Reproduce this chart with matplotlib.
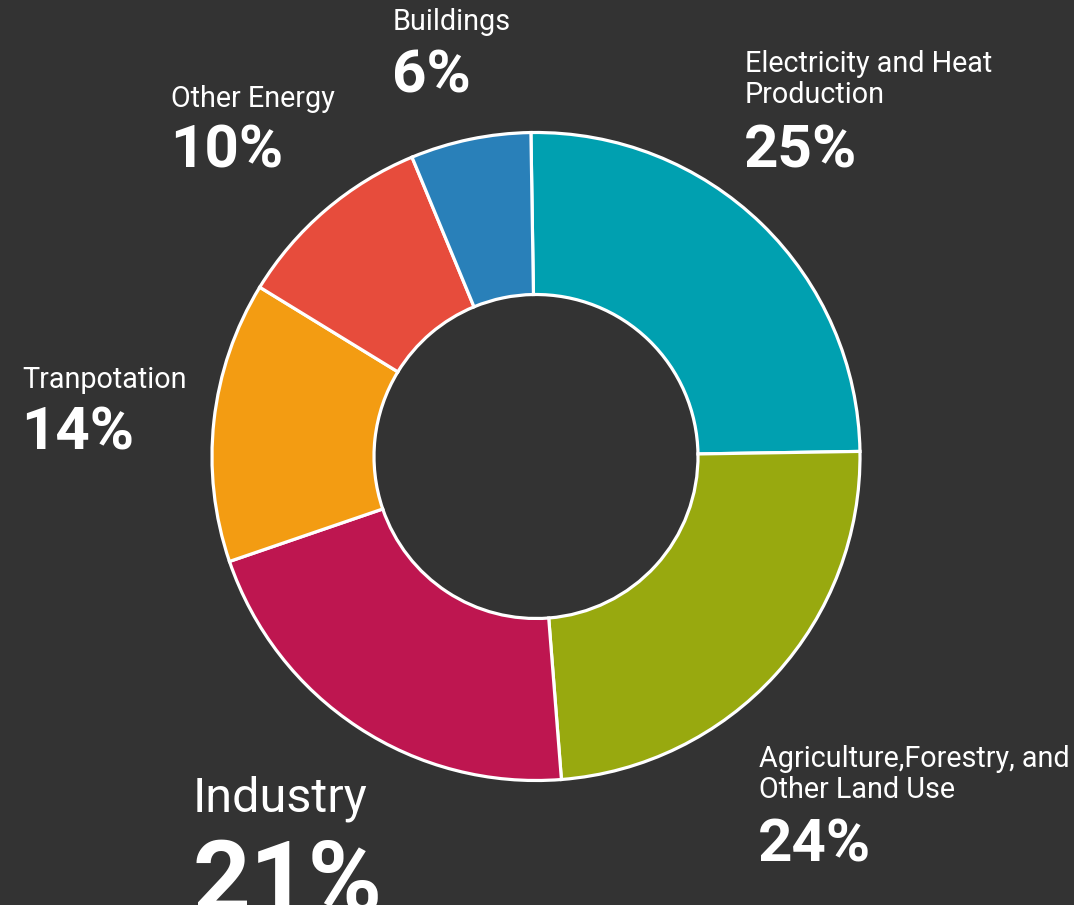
import matplotlib.pyplot as plt

# data
labels = ["Electricity and Heat\nProduction", "Agriculture,Forestry, and\nOther Land Use",
          "Industry", "Tranpotation", "Other Energy", "Buildings"]
shares = [25, 24, 21, 14, 10, 6]
colors = ["#00A0B0", "#98A90F", "#BE1650", "#F39C12", "#E74C3C", "#2980B9"]

W, H = 1074, 905
bg = "#333333"

plt.rcParams['font.family'] = ['Roboto', 'DejaVu Sans']

fig = plt.figure(figsize=(W / 100, H / 100), dpi=100, facecolor=bg)
ax = fig.add_axes([0, 0, 1, 1])
ax.set_facecolor(bg)

cx, cy, r = 536, H - 456.5, 324
ax.pie(shares, colors=colors, startangle=90.9, counterclock=False,
       center=(cx, cy), radius=r,
       wedgeprops=dict(width=r * 0.5, edgecolor="white", linewidth=2.3))

ax.set_xlim(0, W)
ax.set_ylim(0, H)
ax.set_aspect('equal')
ax.axis('off')

# label positions: (left x, baseline y of first label line, label size, pct baseline y, pct size)
spots = [
    (745, 72, 20.7, 167, 43.3),
    (759, 767, 20.7, 862, 43.3),
    (193, 812, 35, 912, 72.5),
    (22, 388, 20.7, 450, 43.3),
    (171, 107, 20.7, 167, 43.3),
    (393, 30, 20.7, 93, 43.3),
]

for lab, s, (x, yb, ls, pb, ps) in zip(labels, shares, spots):
    ax.text(x, H - yb, lab.split("\n")[0], color="white", fontsize=ls,
            ha="left", va="baseline")
    if "\n" in lab:
        ax.text(x, H - yb - 31, lab.split("\n")[1], color="white", fontsize=ls,
                ha="left", va="baseline")
    ax.text(x - 1, H - pb, "%d%%" % s, color="white", fontsize=ps,
            fontweight="bold", ha="left", va="baseline")

fig.savefig("out.png", dpi=100, facecolor=bg)
